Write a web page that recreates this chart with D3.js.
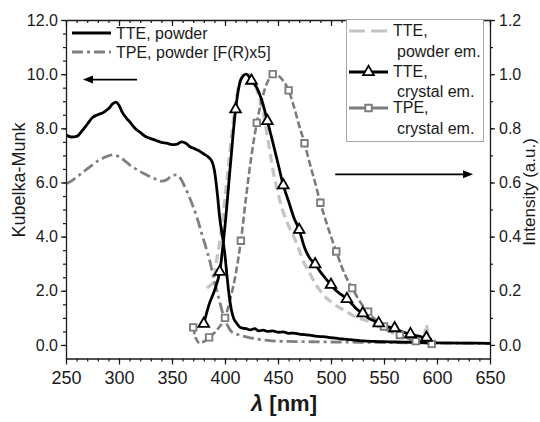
<!DOCTYPE html>
<html>
<head>
<meta charset="utf-8">
<script src="https://cdn.jsdelivr.net/npm/d3@7"></script>
<style>
  body { margin: 0; background: #fff; }
  svg { display: block; font-family: "Liberation Sans", Arial, sans-serif; }
</style>
</head>
<body>
<div id="chart"></div>
<script>
// axis ranges and ticks
const nmDomain = [250, 650];
const kmDomain = [-0.5, 12];
const intDomain = [-0.05, 1.2];
const nmTicks = [250, 300, 350, 400, 450, 500, 550, 600, 650];
const kmTicks = [0, 2, 4, 6, 8, 10, 12];
const intTicks = [0, 0.2, 0.4, 0.6, 0.8, 1.0, 1.2];

// absorption (Kubelka-Munk, left axis)
const tteAbsNm = [250,255,260,265,270,275,280,285,290,294,297,300,303,307,311,315,320,325,330,335,340,345,350,355,359,363,367,371,375,380,384,388,390,393,395,398,400,402,404,406,408,411,414,417,420,424,428,432,436,440,445,450,455,460,465,470,475,480,485,490,495,500,505,510,515,520,525,530,540,550,560,575,600,625,650];
const tteAbsVal = [7.75,7.68,7.7,7.9,8.15,8.4,8.5,8.58,8.72,8.9,8.97,8.85,8.6,8.38,8.2,8.0,7.85,7.7,7.62,7.55,7.48,7.45,7.4,7.42,7.5,7.45,7.32,7.25,7.18,7.05,6.95,6.75,6.45,5.5,4.7,3.9,3.3,2.5,1.8,1.3,1.0,0.8,0.66,0.62,0.6,0.56,0.6,0.52,0.55,0.5,0.52,0.47,0.48,0.43,0.44,0.4,0.38,0.36,0.33,0.31,0.3,0.27,0.25,0.22,0.21,0.19,0.17,0.15,0.13,0.12,0.11,0.1,0.08,0.07,0.06];

const tpeAbsNm = [250,255,260,265,270,275,280,285,290,295,300,305,310,315,320,325,330,335,340,345,350,354,358,362,366,370,374,378,382,386,390,394,398,402,406,410,415,420,430,440,450,475,500,550,600,650];
const tpeAbsVal = [5.95,6.05,6.2,6.35,6.5,6.65,6.8,6.9,6.98,7.02,6.95,6.82,6.65,6.52,6.4,6.3,6.2,6.12,6.05,6.1,6.25,6.28,6.15,5.85,5.5,5.1,4.65,4.12,3.6,3.05,2.35,1.75,1.15,0.75,0.5,0.42,0.35,0.3,0.22,0.17,0.14,0.12,0.11,0.09,0.07,0.06];

// emission (intensity, right axis)
const ttePowEmNm = [383,386,389,392,395,398,401,404,407,410,413,416,419,422,425,428,431,434,437,440,443,446,450,455,460,466,470,475,480,484,490,495,500,505,513,520,527,534,540,546,552,558,565,572,580,586,588,590,592,595,600];
const ttePowEmVal = [0.21,0.22,0.23,0.31,0.38,0.47,0.58,0.69,0.8,0.89,0.96,0.99,1.0,1.0,0.99,0.97,0.93,0.89,0.84,0.77,0.7,0.63,0.56,0.49,0.44,0.39,0.35,0.3,0.265,0.234,0.2,0.176,0.16,0.145,0.127,0.11,0.098,0.089,0.078,0.066,0.055,0.045,0.035,0.027,0.02,0.015,0.03,0.075,0.015,0.008,0.005];

const tteCryEmNm = [380,385,390,395,400,405,410,415,420,425,430,435,440,445,450,455,460,465,470,475,480,485,490,495,500,505,510,515,520,525,530,535,540,545,550,555,560,565,570,575,580,585,590,595];
const tteCryEmVal = [0.078,0.15,0.2,0.27,0.44,0.66,0.87,0.98,1.0,0.976,0.95,0.9,0.827,0.75,0.67,0.59,0.53,0.47,0.425,0.36,0.32,0.298,0.27,0.245,0.222,0.2,0.185,0.17,0.15,0.13,0.117,0.1,0.09,0.08,0.072,0.066,0.062,0.052,0.045,0.04,0.035,0.03,0.027,0.02];

const tpeCryEmNm = [370,373,376,380,385,390,395,400,405,410,415,420,425,430,435,440,445,450,455,460,465,470,475,480,485,490,495,500,505,510,515,520,525,530,535,540,545,550,555,560,565,570,575,580,585,590,595];
const tpeCryEmVal = [0.065,0.02,0.008,0.012,0.028,0.045,0.068,0.1,0.17,0.26,0.385,0.55,0.7,0.82,0.91,0.97,1.0,0.995,0.975,0.94,0.88,0.81,0.745,0.67,0.6,0.525,0.46,0.4,0.345,0.29,0.245,0.21,0.175,0.145,0.123,0.1,0.085,0.068,0.055,0.045,0.037,0.028,0.02,0.014,0.01,0.007,0.004];

const width = 540, height = 422;
const pLeft = 66, pRight = 490, pTop = 20, pBottom = 358.5;
const ink = "#1a1a1a";

const svg = d3.select("#chart").append("svg")
  .attr("width", width)
  .attr("height", height);

const x = d3.scaleLinear().domain(nmDomain).range([pLeft, pRight]);
const yL = d3.scaleLinear().domain(kmDomain).range([pBottom, pTop]);
const yR = d3.scaleLinear().domain(intDomain).range([pBottom, pTop]);

svg.append("defs").append("clipPath").attr("id", "plot")
  .append("rect").attr("x", pLeft).attr("y", pTop)
  .attr("width", pRight - pLeft).attr("height", pBottom - pTop);

//helper: zip arrays into points
function zip(xs, ys) { return xs.map((d, i) => ({ nm: d, v: ys[i] })); }

const lineL = d3.line().x(d => x(d.nm)).y(d => yL(d.v)).curve(d3.curveMonotoneX);
const lineR = d3.line().x(d => x(d.nm)).y(d => yR(d.v)).curve(d3.curveMonotoneX);

const plot = svg.append("g").attr("clip-path", "url(#plot)");

// TTE powder emission - light grey dashes
plot.append("path").datum(zip(ttePowEmNm, ttePowEmVal))
  .attr("d", lineR).attr("fill", "none")
  .attr("stroke", "#c4c4c4").attr("stroke-width", 3.2)
  .attr("stroke-dasharray", "9,5");

// TPE powder absorption - dash dot
plot.append("path").datum(zip(tpeAbsNm, tpeAbsVal))
  .attr("d", lineL).attr("fill", "none")
  .attr("stroke", "#808080").attr("stroke-width", 2.8)
  .attr("stroke-dasharray", "11,4,3,4");

// TPE crystal emission - grey dashes + squares
const tpeCry = zip(tpeCryEmNm, tpeCryEmVal);
plot.append("path").datum(tpeCry)
  .attr("d", lineR).attr("fill", "none")
  .attr("stroke", "#7c7c7c").attr("stroke-width", 2.6)
  .attr("stroke-dasharray", "7,3");

// TTE powder absorption - solid black
plot.append("path").datum(zip(tteAbsNm, tteAbsVal))
  .attr("d", lineL).attr("fill", "none")
  .attr("stroke", "#000").attr("stroke-width", 2.8)
  .attr("stroke-linejoin", "round");

// TTE crystal emission - black + triangles
const tteCry = zip(tteCryEmNm, tteCryEmVal);
plot.append("path").datum(tteCry)
  .attr("d", lineR).attr("fill", "none")
  .attr("stroke", "#000").attr("stroke-width", 2.8);

const tri = d3.symbol().type(d3.symbolTriangle).size(50);
const sq = d3.symbol().type(d3.symbolSquare).size(42);

svg.append("g").selectAll("path")
  .data(tpeCry.filter(d => (d.nm - tpeCryEmNm[0]) % 15 === 0))
  .enter().append("path")
  .attr("d", sq)
  .attr("transform", d => "translate(" + x(d.nm) + "," + yR(d.v) + ")")
  .attr("fill", "#fff").attr("stroke", "#7c7c7c").attr("stroke-width", 1.9);

svg.append("g").selectAll("path")
  .data(tteCry.filter(d => (d.nm - tteCryEmNm[0]) % 15 === 0))
  .enter().append("path")
  .attr("d", tri)
  .attr("transform", d => "translate(" + x(d.nm) + "," + yR(d.v) + ")")
  .attr("fill", "#fff").attr("stroke", "#000").attr("stroke-width", 1.8);

// axes
function styleAxis(g, size) {
  g.selectAll(".domain").attr("stroke", ink).attr("stroke-width", 1.3);
  g.selectAll(".tick line").attr("stroke", ink).attr("stroke-width", 1.2);
  g.selectAll("text").attr("fill", ink).style("font-size", size + "px").attr("font-family", null);
}
const fmt = d3.format(".1f");

svg.append("g").attr("transform", "translate(0," + pBottom + ")")
  .call(d3.axisBottom(x).tickValues(d3.range(250, 651, 10)).tickSize(3).tickFormat(""))
  .call(g => g.select(".domain").remove())
  .call(g => styleAxis(g, 18));
svg.append("g").attr("transform", "translate(0," + pBottom + ")")
  .call(d3.axisBottom(x).tickValues(nmTicks).tickSize(6).tickPadding(7).tickSizeOuter(0))
  .call(g => styleAxis(g, 18));

svg.append("g").attr("transform", "translate(0," + pTop + ")")
  .call(d3.axisBottom(x).tickValues(d3.range(250, 651, 10)).tickSize(3).tickFormat(""))
  .call(g => g.select(".domain").remove())
  .call(g => styleAxis(g, 18));
svg.append("g").attr("transform", "translate(0," + pTop + ")")
  .call(d3.axisBottom(x).tickValues(nmTicks).tickSize(6).tickFormat("").tickSizeOuter(0))
  .call(g => styleAxis(g, 18));

svg.append("g").attr("transform", "translate(" + pLeft + ",0)")
  .call(d3.axisLeft(yL).tickValues(d3.range(0, 24.5, 1).map(d => d / 2)).tickSize(3).tickFormat(""))
  .call(g => g.select(".domain").remove())
  .call(g => styleAxis(g, 16));
svg.append("g").attr("transform", "translate(" + pLeft + ",0)")
  .call(d3.axisLeft(yL).tickValues(kmTicks).tickSize(5).tickPadding(3).tickSizeOuter(0).tickFormat(fmt))
  .call(g => styleAxis(g, 16));

svg.append("g").attr("transform", "translate(" + pRight + ",0)")
  .call(d3.axisRight(yR).tickValues(d3.range(0, 12.5, 1).map(d => d / 10)).tickSize(3).tickFormat(""))
  .call(g => g.select(".domain").remove())
  .call(g => styleAxis(g, 16));
svg.append("g").attr("transform", "translate(" + pRight + ",0)")
  .call(d3.axisRight(yR).tickValues(intTicks).tickSize(5).tickPadding(4).tickSizeOuter(0).tickFormat(fmt))
  .call(g => styleAxis(g, 16));

// axis titles
svg.append("text")
  .attr("transform", "translate(25,180) rotate(-90)")
  .attr("text-anchor", "middle").attr("fill", ink)
  .style("font-size", "18px").text("Kubelka-Munk");

svg.append("text")
  .attr("transform", "translate(535,192) rotate(-90)")
  .attr("text-anchor", "middle").attr("fill", ink)
  .style("font-size", "17px").text("Intensity (a.u.)");

const xt = svg.append("text")
  .attr("x", 284).attr("y", 411)
  .attr("text-anchor", "middle").attr("fill", ink)
  .style("font-size", "22px").style("font-weight", "bold");
xt.append("tspan").style("font-style", "italic").text("λ");
xt.append("tspan").text(" [nm]");

// arrows pointing to the axes
function arrow(x1, x2, yy) {
  const dir = Math.sign(x2 - x1);
  svg.append("line")
    .attr("x1", x1).attr("x2", x2 - dir * 6).attr("y1", yy).attr("y2", yy)
    .attr("stroke", "#000").attr("stroke-width", 1.6);
  svg.append("path")
    .attr("d", d3.line()([[x2, yy], [x2 - dir * 10, yy - 4], [x2 - dir * 10, yy + 4]]) + "Z")
    .attr("fill", "#000");
}
arrow(x(317), x(266), yL(9.8));
arrow(x(504), x(634), yR(0.63));

// left legend
const legL = svg.append("g").style("font-size", "16px").attr("fill", ink);
legL.append("line").attr("x1", 72).attr("x2", 111).attr("y1", 33).attr("y2", 33)
  .attr("stroke", "#000").attr("stroke-width", 2.8);
legL.append("text").attr("x", 116).attr("y", 39).text("TTE, powder");
legL.append("line").attr("x1", 72).attr("x2", 111).attr("y1", 52).attr("y2", 52)
  .attr("stroke", "#808080").attr("stroke-width", 2.8).attr("stroke-dasharray", "11,4,3,4");
legL.append("text").attr("x", 116).attr("y", 58).text("TPE, powder [F(R)x5]");

// right legend
const legR = svg.append("g").style("font-size", "16px").attr("fill", ink);
legR.append("rect").attr("x", 346.5).attr("y", 19.5).attr("width", 137).attr("height", 122)
  .attr("fill", "#fff").attr("stroke", "#a8a8a8").attr("stroke-width", 1);

legR.append("line").attr("x1", 349).attr("x2", 388).attr("y1", 31).attr("y2", 31)
  .attr("stroke", "#c4c4c4").attr("stroke-width", 3.2).attr("stroke-dasharray", "16,6");
legR.append("text").attr("x", 393).attr("y", 36).text("TTE,");
legR.append("text").attr("x", 397).attr("y", 57).text("powder em.");

legR.append("line").attr("x1", 349).attr("x2", 388).attr("y1", 72).attr("y2", 72)
  .attr("stroke", "#000").attr("stroke-width", 2.8);
legR.append("path").attr("d", tri).attr("transform", "translate(368.5,72)")
  .attr("fill", "#fff").attr("stroke", "#000").attr("stroke-width", 1.8);
legR.append("text").attr("x", 393).attr("y", 77).text("TTE,");
legR.append("text").attr("x", 397).attr("y", 97).text("crystal em.");

legR.append("line").attr("x1", 349).attr("x2", 388).attr("y1", 108).attr("y2", 108)
  .attr("stroke", "#7c7c7c").attr("stroke-width", 2.8);
legR.append("path").attr("d", sq).attr("transform", "translate(368.5,108)")
  .attr("fill", "#fff").attr("stroke", "#7c7c7c").attr("stroke-width", 1.9);
legR.append("text").attr("x", 393).attr("y", 113).text("TPE,");
legR.append("text").attr("x", 397).attr("y", 134).text("crystal em.");
</script>
</body>
</html>
